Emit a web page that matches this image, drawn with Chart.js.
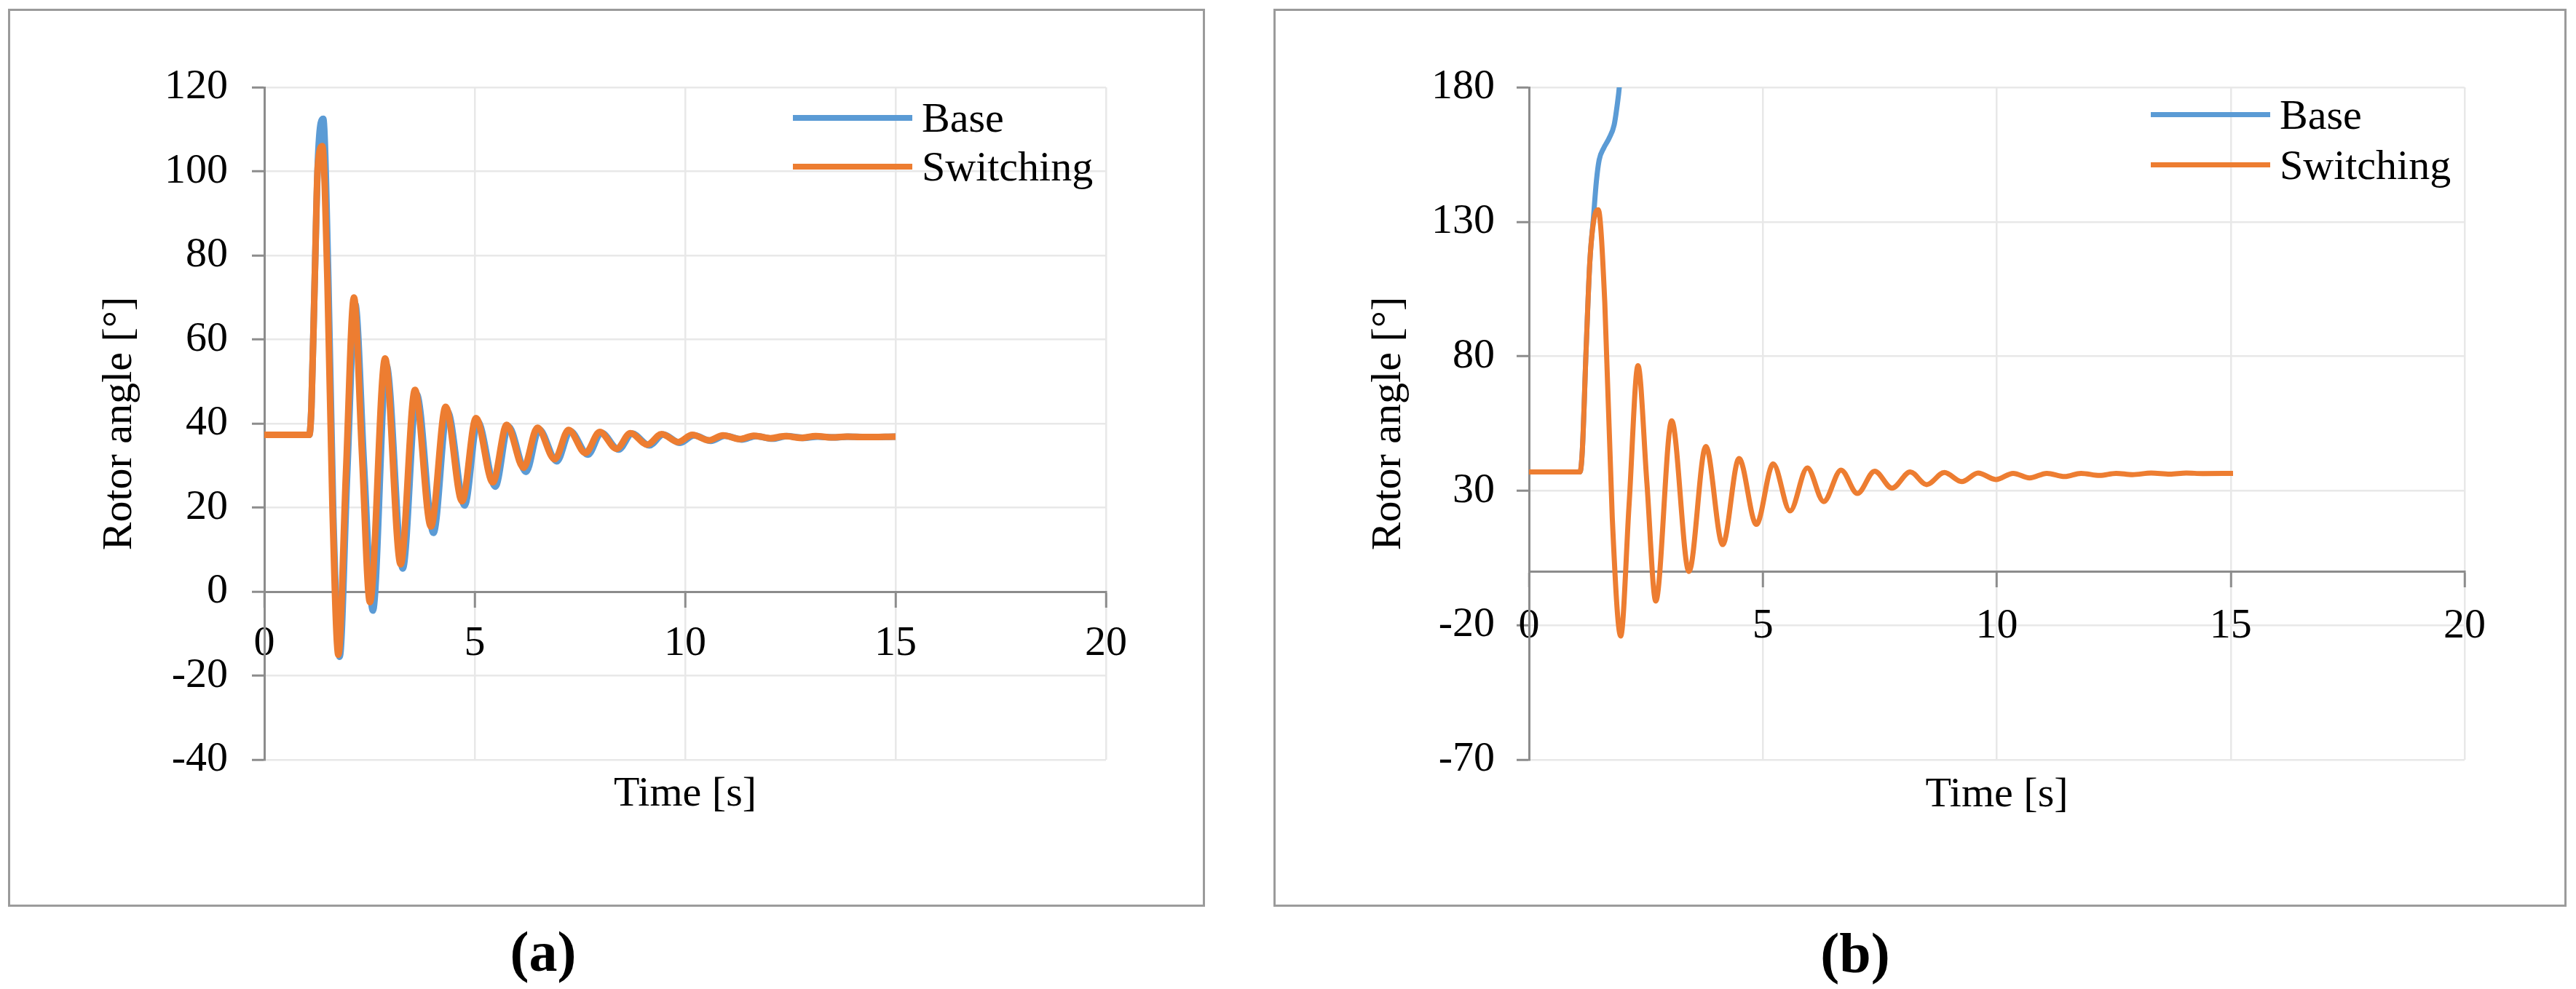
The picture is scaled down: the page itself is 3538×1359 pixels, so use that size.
<!DOCTYPE html>
<html>
<head>
<meta charset="utf-8">
<title>Rotor angle</title>
<script src="https://cdn.jsdelivr.net/npm/chart.js@4.4.1/dist/chart.umd.min.js"></script>
<style>
  body { margin: 0; background: #fff; width: 3538px; height: 1359px; position: relative; overflow: hidden;
         font-family: "Liberation Serif", "Times New Roman", serif; }
  .frame { position: absolute; border: 3px solid #9b9b9b; box-sizing: border-box; }
  canvas { position: absolute; top: 0; }
  .legend { position: absolute; font-size: 58px; color: #000; }
  .legend .row { display: flex; align-items: center; white-space: nowrap; }
  .legend .swatch { width: 164px; margin-right: 13px; }
  .caption { position: absolute; font-weight: bold; font-size: 78px; transform: translate(-50%, -50%); }
</style>
</head>
<body>
<div class="frame" style="left:11px;top:12px;width:1644px;height:1234px"></div>
<div class="frame" style="left:1749px;top:12px;width:1776px;height:1234px"></div>
<canvas id="chartA" width="1760" height="1359" style="left:0"></canvas>
<canvas id="chartB" width="1778" height="1359" style="left:1760px"></canvas>
<div id="legendA" class="legend" style="left:1089px;top:128px"></div>
<div id="legendB" class="legend" style="left:2954px;top:123px"></div>
<div class="caption" style="left:746px;top:1308px">(a)</div>
<div class="caption" style="left:2548px;top:1310px">(b)</div>
<script>
// axis ticks
const xTicks = [0, 5, 10, 15, 20];
const yTicksA = [-40, -20, 0, 20, 40, 60, 80, 100, 120];
const yTicksB = [-70, -20, 30, 80, 130, 180];

const seriesNames = ["Base", "Switching"];
const seriesColors = ["#5B9BD5", "#ED7D31"];

// (a) rotor angle, both cases stay in step
const baseTimeA = [0, 1.07, 1.12, 1.20, 1.28, 1.40, 1.52, 1.64, 1.79, 1.97,
    2.16, 2.37, 2.58, 2.90, 3.29, 3.62, 4.02, 4.35, 4.76, 5.07,
    5.49, 5.80, 6.22, 6.53, 6.95, 7.27, 7.69, 8.01, 8.42, 8.74,
    9.15, 9.48, 9.88, 10.21, 10.61, 10.94, 11.35, 11.68, 12.08, 12.41,
    12.82, 13.15, 13.55, 13.88, 14.3, 15.0];
const baseAngleA = [37.3, 37.3, 44, 75, 104, 112.5, 75, 18, -15.5, 28,
    68.5, 30, -4.5, 54, 5.5, 47, 14, 43, 20.5, 40.5,
    25, 39.3, 28.5, 38.6, 31, 38.2, 32.6, 37.8, 33.8, 37.6,
    34.8, 37.4, 35.4, 37.2, 35.9, 37.1, 36.2, 37.0, 36.4, 37.0,
    36.6, 36.9, 36.7, 36.9, 36.8, 36.9];
const swTimeA = [0, 1.07, 1.12, 1.20, 1.27, 1.38, 1.50, 1.62, 1.76, 1.94,
    2.13, 2.32, 2.51, 2.87, 3.24, 3.58, 3.96, 4.31, 4.70, 5.03,
    5.43, 5.76, 6.16, 6.49, 6.90, 7.23, 7.63, 7.97, 8.37, 8.70,
    9.10, 9.44, 9.83, 10.17, 10.56, 10.90, 11.30, 11.63, 12.03, 12.37,
    12.76, 13.10, 13.50, 13.83, 14.23, 15.0];
const swAngleA = [37.3, 37.3, 44, 75, 101, 106, 74, 20, -15, 28,
    70, 33, -2.5, 55.5, 6.5, 48, 15.5, 44, 21.5, 41.3,
    26, 39.7, 29.5, 39, 31.5, 38.5, 33, 38, 34, 37.7,
    35, 37.5, 35.6, 37.3, 36, 37.2, 36.3, 37.1, 36.5, 37.0,
    36.6, 37.0, 36.7, 36.9, 36.8, 36.9];

// (b) base case loses synchronism
const baseTimeB = [0, 1.09, 1.14, 1.22, 1.30, 1.38, 1.44, 1.50, 1.60, 1.71, 1.82, 1.89, 1.93, 1.98];
const baseAngleB = [37, 37, 45, 82, 115, 132, 145, 153, 157.5, 161, 166, 174, 180, 192];
const swTimeB = [0, 1.09, 1.14, 1.22, 1.30, 1.38, 1.48, 1.62, 1.78, 1.96,
    2.14, 2.33, 2.52, 2.71, 3.05, 3.42, 3.78, 4.14, 4.49, 4.86,
    5.22, 5.58, 5.95, 6.30, 6.67, 7.02, 7.39, 7.76, 8.15, 8.50,
    8.88, 9.25, 9.60, 9.98, 10.35, 10.70, 11.07, 11.45, 11.80, 12.20,
    12.55, 12.90, 13.30, 13.70, 14.05, 14.40, 15.05];
const swAngleB = [37, 37, 45, 82, 115, 130, 134.5, 100, 20, -24,
    25, 76.5, 33, -11, 56, 0, 46.5, 10, 42, 17.5,
    40, 22.5, 38.5, 26, 37.7, 29, 37.3, 31, 37, 32.3,
    36.8, 33.4, 36.6, 34.2, 36.5, 34.8, 36.5, 35.3, 36.5, 35.7,
    36.5, 36, 36.6, 36.2, 36.6, 36.4, 36.5];

const FONT = "'Liberation Serif', 'Times New Roman', serif";
const AXIS = "#8c8c8c";
const GRID = "#e8e8e8";

function toPoints(ts, vs) {
    return ts.map((t, i) => ({ x: t, y: vs[i] }));
}

function makeChart(id, o) {
    const ctx = document.getElementById(id).getContext("2d");
    return new Chart(ctx, {
        type: "line",
        data: {
            datasets: [
                { label: seriesNames[0], data: toPoints(o.baseT, o.baseV), borderColor: seriesColors[0], order: 1 },
                { label: seriesNames[1], data: toPoints(o.swT, o.swV), borderColor: seriesColors[1], order: 0 },
            ],
        },
        options: {
            responsive: false,
            animation: false,
            events: [],
            layout: { padding: o.pad },
            elements: {
                point: { radius: 0 },
                line: { borderWidth: o.lw, cubicInterpolationMode: "monotone", fill: false },
            },
            datasets: { line: { clip: 0 } },
            plugins: { legend: { display: false }, tooltip: { enabled: false } },
            scales: {
                x: {
                    type: "linear",
                    position: { y: 0 }, // axis crosses at zero, like the original
                    min: xTicks[0],
                    max: xTicks[xTicks.length - 1],
                    afterBuildTicks: (s) => { s.ticks = xTicks.map((v) => ({ value: v })); },
                    afterFit: (s) => { s.height = o.xHeight; },
                    grid: {
                        color: (c) => (c.tick && c.tick.value === 0 ? "rgba(0,0,0,0)" : GRID),
                        lineWidth: 2.5,
                        tickColor: AXIS,
                        tickLength: 20,
                        tickWidth: 3,
                    },
                    border: { color: AXIS, width: 3 },
                    ticks: {
                        font: { family: FONT, size: 58 },
                        color: "#000",
                        padding: o.xPad,
                        maxRotation: 0,
                        autoSkip: false,
                    },
                    title: {
                        display: true,
                        text: "Time [s]",
                        font: { family: FONT, size: 58 },
                        color: "#000",
                        padding: { top: 0, bottom: o.xTitlePad },
                    },
                },
                y: {
                    type: "linear",
                    min: o.yTicks[0],
                    max: o.yTicks[o.yTicks.length - 1],
                    afterBuildTicks: (s) => { s.ticks = o.yTicks.map((v) => ({ value: v })); },
                    afterFit: (s) => { s.width = o.yWidth; },
                    grid: {
                        color: (c) => (c.tick && c.tick.value === 0 ? "rgba(0,0,0,0)" : GRID),
                        lineWidth: 2.5,
                        tickColor: AXIS,
                        tickLength: 17,
                        tickWidth: 3,
                    },
                    border: { color: AXIS, width: 3 },
                    ticks: {
                        font: { family: FONT, size: 58 },
                        color: "#000",
                        padding: o.yPad,
                    },
                    title: {
                        display: true,
                        text: "Rotor angle [°]",
                        font: { family: FONT, size: 58 },
                        color: "#000",
                        padding: { top: o.yTitlePad, bottom: 0 },
                    },
                },
            },
        },
    });
}

function renderLegend(id, chart, rowH, lineH) {
    const box = document.getElementById(id);
    box.innerHTML = chart.data.datasets.map((ds) => `
        <div class="row" style="height:${rowH}px">
            <span class="swatch" style="height:${lineH}px;background:${ds.borderColor}"></span>
            <span>${ds.label}</span>
        </div>`).join("");
}

// the zero-crossing x axis takes no layout space, so the bottom padding sets the plot bottom
const chartA = makeChart("chartA", {
    baseT: baseTimeA, baseV: baseAngleA, swT: swTimeA, swV: swAngleA,
    yTicks: yTicksA, lw: 9,
    pad: { left: 100, top: 120, right: 241, bottom: 315 },
    yWidth: 263, xHeight: 315, xPad: 17, yPad: 33, xTitlePad: 1, yTitlePad: 30,
});
const chartB = makeChart("chartB", {
    baseT: baseTimeB, baseV: baseAngleB, swT: swTimeB, swV: swAngleB,
    yTicks: yTicksB, lw: 7,
    pad: { left: 60, top: 120, right: 153, bottom: 315 },
    yWidth: 280, xHeight: 315, xPad: 21, yPad: 30, xTitlePad: -27, yTitlePad: 53,
});

renderLegend("legendA", chartA, 67, 8);
renderLegend("legendB", chartB, 69, 7);
</script>
</body>
</html>
